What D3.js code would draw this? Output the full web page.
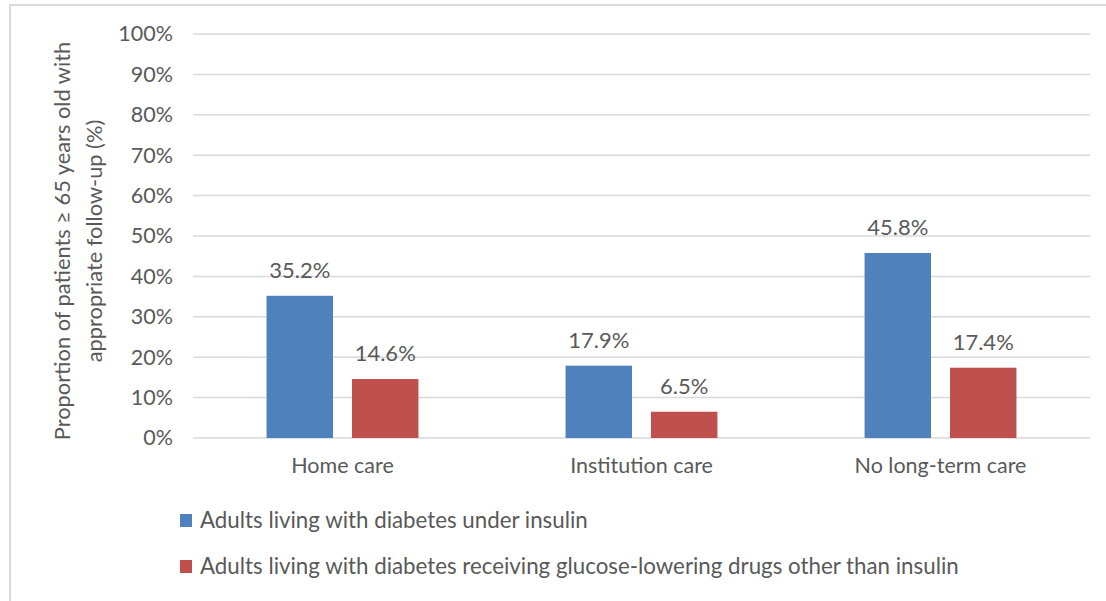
<!DOCTYPE html>
<html>
<head>
<meta charset="utf-8">
<script src="https://cdn.jsdelivr.net/npm/d3@7"></script>
<style>
  body { margin: 0; background: #fff; }
  text { font-family: Lato, "Open Sans", sans-serif; fill: #595959; }
</style>
</head>
<body>
<svg id="chart" width="1106" height="601"></svg>
<script>
const categories = ["Home care", "Institution care", "No long-term care"];
const seriesNames = [
  "Adults living with diabetes under insulin",
  "Adults living with diabetes receiving glucose-lowering drugs other than insulin"
];
const insulinValues = [35.2, 17.9, 45.8];
const otherDrugValues = [14.6, 6.5, 17.4];
const yTicks = [0, 10, 20, 30, 40, 50, 60, 70, 80, 90, 100];
const colors = ["#4f81bd", "#c0504d"];
const yTitleLines = ["Proportion of patients \u2265 65 years old with", "appropriate follow-up (%)"];

const svg = d3.select("#chart");

// outer frame
svg.append("path")
  .attr("d", "M10,601 V5 H1106")
  .attr("fill", "none").attr("stroke", "#d9d9d9").attr("stroke-width", 2);

const plot = { left: 193, right: 1090, top: 34, bottom: 438 };

const x0 = d3.scaleBand().domain(categories).range([plot.left, plot.right]);
const x1 = d3.scaleBand().domain([0, 1])
  .range([x0.bandwidth() * 0.246, x0.bandwidth() * 0.754]).paddingInner(0.222);
const y = d3.scaleLinear().domain([0, 100]).range([plot.bottom, plot.top]);

// gridlines
svg.append("g").selectAll("line").data(yTicks).join("line")
  .attr("x1", plot.left).attr("x2", plot.right)
  .attr("y1", d => y(d)).attr("y2", d => y(d))
  .attr("stroke", "#d9d9d9").attr("stroke-width", 1.5);

const fontFam = "Lato, 'Open Sans', sans-serif";

// y axis labels
const yAxis = d3.axisLeft(y).tickValues(yTicks).tickFormat(d => d + "%").tickSize(0).tickPadding(0);
const yg = svg.append("g").attr("transform", `translate(173,0)`).call(yAxis);
yg.select(".domain").remove();
yg.selectAll("text").attr("font-size", 21.5).attr("fill", "#595959").style("font-family", fontFam);

// x axis labels
const xAxis = d3.axisBottom(x0).tickSize(0).tickPadding(0);
const xg = svg.append("g").attr("transform", `translate(0,${plot.bottom + 20})`).call(xAxis);
xg.select(".domain").remove();
xg.selectAll("text").attr("font-size", 21.5).attr("fill", "#595959").style("font-family", fontFam);

// bars
const data = categories.map((c, i) => ({ cat: c, vals: [insulinValues[i], otherDrugValues[i]] }));
const groups = svg.append("g").selectAll("g").data(data).join("g")
  .attr("transform", d => `translate(${x0(d.cat)},0)`);

groups.selectAll("rect").data(d => d.vals.map((v, s) => ({ v, s }))).join("rect")
  .attr("x", d => x1(d.s)).attr("width", x1.bandwidth())
  .attr("y", d => y(d.v)).attr("height", d => y(0) - y(d.v))
  .attr("fill", d => colors[d.s]);

groups.selectAll("text.lbl").data(d => d.vals.map((v, s) => ({ v, s }))).join("text")
  .attr("class", "lbl")
  .attr("x", d => x1(d.s) + x1.bandwidth() / 2)
  .attr("y", d => y(d.v) - 18)
  .attr("text-anchor", "middle")
  .attr("font-size", 22)
  .text(d => d.v.toFixed(1) + "%");

// y title
const yt = svg.append("text")
  .attr("transform", `translate(62,241) rotate(-90)`)
  .attr("text-anchor", "middle")
  .attr("font-size", 21.8);
yTitleLines.forEach((t, i) => {
  yt.append("tspan").attr("x", 0).attr("dy", i === 0 ? "0.35em" : 32).text(t);
});

// legend
const legend = svg.append("g").selectAll("g").data(seriesNames).join("g")
  .attr("transform", (d, i) => `translate(180,${514 + i * 46})`);
legend.append("rect").attr("width", 12).attr("height", 13).attr("fill", (d, i) => colors[i]);
legend.append("text").attr("x", 20).attr("y", 14).attr("font-size", 22.3).text(d => d);
</script>
</body>
</html>
